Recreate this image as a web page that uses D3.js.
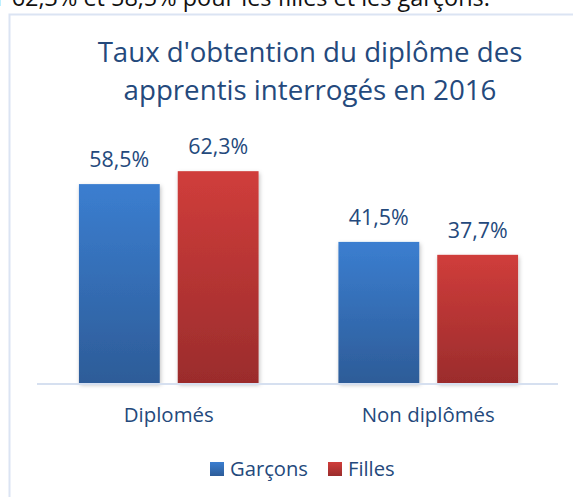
<!DOCTYPE html>
<html><head><meta charset="utf-8">
<script src="https://cdn.jsdelivr.net/npm/d3@7/dist/d3.min.js"></script>
<style>html,body{margin:0;padding:0;background:#fff;overflow:hidden}</style>
</head><body>
<script>
const categories = ["Diplomés", "Non diplômés"];
const seriesNames = ["Garçons", "Filles"];
const garcons = [58.5, 41.5];
const filles = [62.3, 37.7];
const valueLabels = [["58,5%", "41,5%"], ["62,3%", "37,7%"]];
const titleLines = ["Taux d'obtention du diplôme des", "apprentis interrogés en 2016"];
const topText = "r 62,3% et 58,5% pour les filles et les garçons.";

const W = 573, H = 497;
const font = "Open Sans, 'Noto Sans', sans-serif";
const txt = "#24497c";
const svg = d3.select("body").append("svg").attr("width", W).attr("height", H);
const defs = svg.append("defs");
const grads = [["gB", "#3b7ed0", "#2d5c98"], ["gR", "#d03d3b", "#9b2c2c"]];
grads.forEach(([id, a, b]) => {
  const g = defs.append("linearGradient").attr("id", id).attr("x1", 0).attr("y1", 0).attr("x2", 0).attr("y2", 1);
  g.append("stop").attr("offset", "0%").attr("stop-color", a);
  g.append("stop").attr("offset", "100%").attr("stop-color", b);
});
const f = defs.append("filter").attr("id", "sh").attr("x", "-20%").attr("y", "-5%").attr("width", "140%").attr("height", "115%");
f.append("feDropShadow").attr("dx", 1).attr("dy", 2).attr("stdDeviation", 2).attr("flood-color", "#000").attr("flood-opacity", 0.25);

function fitSize(sample, fs, target) {
  const t = svg.append("text").attr("font-family", font).attr("font-size", fs).text(sample);
  const len = t.node().getComputedTextLength();
  t.remove();
  return fs * target / len;
}
function fitText(sel, target) {
  const len = sel.node().getComputedTextLength();
  const fs = parseFloat(sel.attr("font-size"));
  sel.attr("font-size", fs * target / len);
}

// top cut-off text (continuation of the page's paragraph above the chart)
const tt = svg.append("text").attr("x", -4).attr("y", 6).attr("font-family", font).attr("font-size", 24)
  .attr("fill", "#111").text(topText);
fitText(tt, 494);

// chart frame
svg.append("rect").attr("x", 9.5).attr("y", 14.5).attr("width", 600).attr("height", 520)
  .attr("fill", "#fff").attr("stroke", "#dbe4f3").attr("stroke-width", 2);

// title
const tl1 = svg.append("text").attr("x", 310).attr("y", 62).attr("text-anchor", "middle")
  .attr("font-family", font).attr("font-size", 26).attr("fill", txt).text(titleLines[0]);
fitText(tl1, 425);
const tl2 = svg.append("text").attr("x", 310).attr("y", 100).attr("text-anchor", "middle")
  .attr("font-family", font).attr("font-size", 26).attr("fill", txt).text(titleLines[1]);
fitText(tl2, 373);

const x0 = d3.scaleBand().domain(categories).range([39, 558]).paddingInner(0).paddingOuter(0);
const x1 = d3.scaleBand().domain(seriesNames).range([0, x0.bandwidth()]).paddingInner(0.182).paddingOuter(0.404);
const y = d3.scaleLinear().domain([0, 70]).range([383, 145]);

const valFs = fitSize("58,5%", 18, 60);
const data = [garcons, filles];
seriesNames.forEach((s, si) => {
  categories.forEach((c, ci) => {
    const v = data[si][ci];
    const bx = x0(c) + x1(s);
    svg.append("rect").attr("x", bx).attr("y", y(v)).attr("width", x1.bandwidth()).attr("height", y(0) - y(v))
      .attr("fill", `url(#${grads[si][0]})`).attr("filter", "url(#sh)");
    svg.append("text").attr("x", bx + x1.bandwidth() / 2).attr("y", y(v) - 17).attr("text-anchor", "middle")
      .attr("font-family", font).attr("font-size", valFs).attr("fill", txt).text(valueLabels[si][ci]);
  });
});

// axis line
svg.append("line").attr("x1", 37).attr("x2", 558).attr("y1", 384).attr("y2", 384)
  .attr("stroke", "#d6e0f0").attr("stroke-width", 2);

// category labels
const catFs = fitSize("Diplomés", 18, 90);
categories.forEach(c => {
  svg.append("text").attr("x", x0(c) + x1("Garçons") + (x1("Filles") + x1.bandwidth() - x1("Garçons")) / 2)
    .attr("y", 422).attr("text-anchor", "middle").attr("font-family", font).attr("font-size", catFs)
    .attr("fill", txt).text(c);
});

// legend
const legFs = fitSize("Garçons", 18, 78);
const leg = [[210, 230], [328, 348]];
seriesNames.forEach((s, i) => {
  svg.append("rect").attr("x", leg[i][0]).attr("y", 462).attr("width", 14).attr("height", 14)
    .attr("fill", `url(#${grads[i][0]})`);
  svg.append("text").attr("x", leg[i][1]).attr("y", 476).attr("font-family", font).attr("font-size", legFs)
    .attr("fill", txt).text(s);
});
</script>
</body></html>
